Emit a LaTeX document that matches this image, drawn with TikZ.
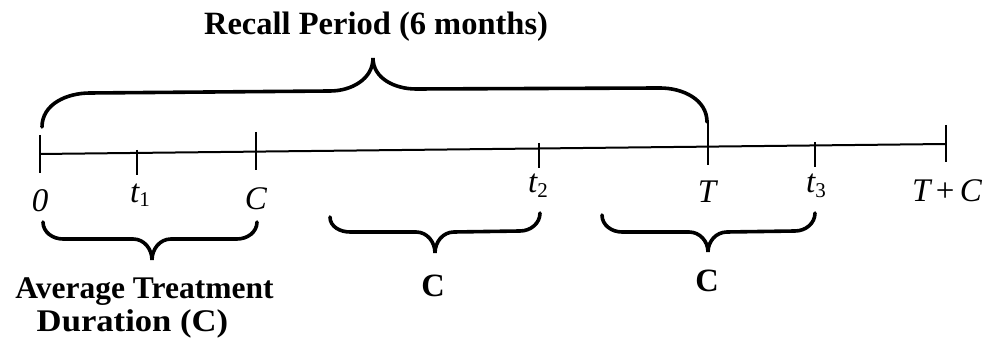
\documentclass[tikz,border=0pt]{standalone}
\usepackage{graphicx}
\usepackage{fontspec}
\setmainfont{Liberation Serif}
\begin{document}
\begin{tikzpicture}[x=1pt,y=1pt,
  axisline/.style={line width=2pt},
  tickline/.style={line width=2.2pt},
  bracepath/.style={line width=3.6pt, line cap=round},
  ilbl/.style={font=\fontsize{33}{33}\selectfont\itshape, anchor=base, inner sep=0pt},
  btxt/.style={font=\fontsize{32.5}{32.5}\selectfont\bfseries, anchor=base, inner sep=0pt},
  bbig/.style={font=\fontsize{31.5}{31.5}\selectfont\bfseries, anchor=base, inner sep=0pt}]
\useasboundingbox (0,0) rectangle (990,339);
% axis
\coordinate (a0) at (40,185);
\coordinate (a1) at (946,195);
\draw[axisline] (a0) -- (a1);
% ticks
\draw[tickline] (40,204) -- (40,166);
\draw[tickline] (137,189) -- (137,164);
\draw[tickline] (256,207) -- (256,169);
\draw[tickline] (539,196) -- (539,171);
\draw[tickline] (708,219) -- (708,174);
\draw[tickline] (815,197) -- (815,172);
\draw[tickline] (946,214) -- (946,177);
% top brace
\draw[bracepath] (42,212) to[out=90,in=180] (90,246) -- (330,248)
  to[out=0,in=-90] (373,281) to[out=-90,in=180] (416,250) -- (660,251)
  to[out=0,in=90] (707,217);
% bottom braces
\draw[bracepath] (43,117) to[out=-90,in=180] (63,100) -- (133,100)
  to[out=0,in=90] (152,79) to[out=90,in=180] (171,100) -- (237,100)
  to[out=0,in=-90] (257,117);
\draw[bracepath] (330,122) to[out=-90,in=180] (350,107) -- (416,107)
  to[out=0,in=90] (435,86) to[out=90,in=180] (454,107) -- (520,108)
  to[out=0,in=-90] (540,126);
\draw[bracepath] (602,124) to[out=-90,in=180] (622,107) -- (689,107)
  to[out=0,in=90] (708,87) to[out=90,in=180] (727,107) -- (795,108)
  to[out=0,in=-90] (815,126);
% labels
\node[btxt] (recall) at (376,304) {Recall Period (6 months)};
\node[ilbl] (l0) at (40,127) {0};
\node[ilbl] (lt1) at (140,136) {t\raisebox{-4pt}{\fontsize{21}{21}\selectfont\upshape 1}};
\node[ilbl] (lC) at (256,129) {C};
\node[ilbl] (lt2) at (538,146) {t\raisebox{-5pt}{\fontsize{21}{21}\selectfont\upshape 2}};
\node[ilbl] (lT) at (707,136) {T};
\node[ilbl] (lt3) at (816,146) {t\raisebox{-5pt}{\fontsize{21}{21}\selectfont\upshape 3}};
\node[ilbl] (lTC) at (947,137) {T\,{\upshape+}\,C};
\node[bbig] (avg1) at (144.5,40) {Average Treatment};
\node[bbig] (avg2) at (132.5,7) {\scalebox{1.1}[1]{Duration (C)}};
\node[btxt] (cmid) at (433,42) {C};
\node[btxt] (cright) at (707,47) {C};
\end{tikzpicture}
\end{document}
